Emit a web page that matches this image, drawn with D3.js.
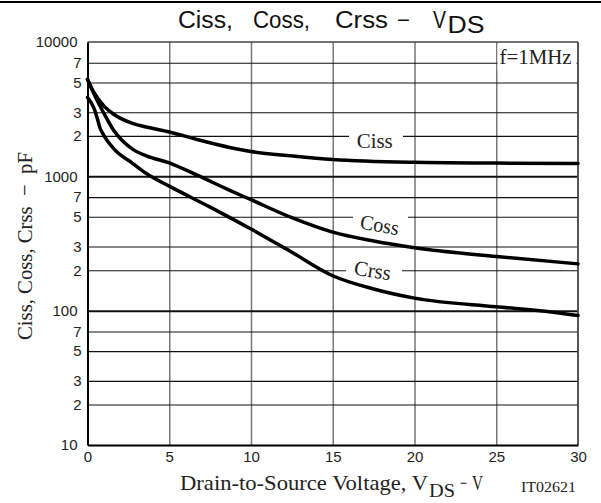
<!DOCTYPE html>
<html>
<head>
<meta charset="utf-8">
<script src="https://cdn.jsdelivr.net/npm/d3@7"></script>
<style>
  html, body { margin: 0; padding: 0; background: #fff; }
  svg { display: block; }
  text { white-space: pre; }
</style>
</head>
<body>
<svg id="chart" width="601" height="503"></svg>
<script>
// ---- data ----
const cissV = [0, 0.4, 1.0, 1.6, 2.8, 3.6, 5, 6.7, 8.7, 10, 12.5, 15, 20, 25, 30];
const cissC = [5270, 4200, 3350, 2900, 2470, 2330, 2140, 1880, 1640, 1530, 1420, 1335, 1272, 1255, 1244];
const cossV = [0, 0.4, 1.0, 1.6, 2.8, 3.6, 5, 6.7, 8.7, 10, 12.5, 15, 17.5, 20, 25, 30];
const cossC = [5270, 4100, 2950, 2200, 1580, 1420, 1260, 1020, 787, 670, 492, 384, 330, 294, 253, 223];
const crssV = [0, 0.4, 0.6, 0.75, 1.0, 1.6, 2.8, 3.6, 5, 7.5, 10, 12.5, 15, 17.5, 20, 25, 28, 30];
const crssC = [3870, 3200, 2700, 2320, 2020, 1610, 1240, 1050, 845, 590, 405, 272, 182, 145, 124, 107, 99, 92];
const xTicks = [0, 5, 10, 15, 20, 25, 30];
const yTicks = [10, 20, 30, 50, 70, 100, 200, 300, 500, 700, 1000, 2000, 3000, 5000, 7000, 10000];
const yTickLabels = ["10", "2", "3", "5", "7", "100", "2", "3", "5", "7", "1000", "2", "3", "5", "7", "10000"];
const yMajor = [100, 1000];

const svg = d3.select("#chart");
const L = 87.5, R = 578, T = 42, B = 445;
const x = d3.scaleLinear().domain([0, 30]).range([L, R]);
const y = d3.scaleLog().domain([10, 10000]).range([B, T]);
const sans = "Liberation Sans, Arial, sans-serif";
const serif = "Liberation Serif, Times New Roman, serif";

// header rule
svg.append("line").attr("x1", 0).attr("x2", 601).attr("y1", 2).attr("y2", 2)
  .attr("stroke", "#000").attr("stroke-width", 2);

// title
const tg = svg.append("g").attr("font-family", sans).attr("fill", "#111");
[["Ciss,", 178, 55, 28], ["Coss,", 253, 57, 28], ["Crss", 335, 53, 28], ["\u2212", 397, 13, 28], ["V", 433, 13, 28], ["DS", 447.5, 37, 33]]
  .forEach(([t, tx, tl, ty]) => tg.append("text").attr("x", tx).attr("y", ty).attr("font-size", 23)
    .attr("textLength", tl).attr("lengthAdjust", "spacingAndGlyphs").text(t));

// vertical grid
svg.append("g").attr("transform", `translate(0,${T})`)
  .call(d3.axisBottom(x).tickValues(xTicks.slice(1, -1)).tickSize(B - T).tickFormat(""))
  .call(g => g.select(".domain").remove())
  .call(g => g.selectAll("line").attr("stroke", "#777").attr("stroke-width", 1.5));

// horizontal grid
svg.append("g").attr("transform", `translate(${L},0)`)
  .call(d3.axisRight(y).tickValues(yTicks.slice(1, -1)).tickSize(R - L).tickFormat(""))
  .call(g => g.select(".domain").remove())
  .call(g => g.selectAll("line").attr("stroke", "#111")
    .attr("stroke-width", d => yMajor.includes(d) ? 2 : 1.1));

// label backgrounds (break grid lines)
const bg = svg.append("g").attr("fill", "#fff");
bg.append("rect").attr("x", 497.5).attr("y", 44).attr("width", 79).attr("height", 26);
bg.append("rect").attr("x", 349).attr("y", 128).attr("width", 54).attr("height", 16);
bg.append("rect").attr("x", 353).attr("y", 209).attr("width", 55).attr("height", 16);
bg.append("rect").attr("x", 346).attr("y", 262).attr("width", 56).attr("height", 16);

// frame
svg.append("line").attr("x1", L).attr("x2", R).attr("y1", T).attr("y2", T).attr("stroke", "#444").attr("stroke-width", 1.5);
svg.append("line").attr("x1", R).attr("x2", R).attr("y1", T).attr("y2", B).attr("stroke", "#444").attr("stroke-width", 1.8);

// axes
svg.append("g").attr("transform", `translate(0,${B})`)
  .call(d3.axisBottom(x).tickValues(xTicks).tickSize(0).tickPadding(6))
  .call(g => g.select(".domain").attr("stroke", "#000").attr("stroke-width", 2))
  .call(g => g.selectAll("text").attr("font-family", sans).attr("font-size", 15).attr("fill", "#222"));

svg.append("g").attr("transform", `translate(${L},0)`)
  .call(d3.axisLeft(y).tickValues(yTicks).tickFormat((d, i) => yTickLabels[i]).tickSize(0).tickPadding(8))
  .call(g => g.select(".domain").attr("stroke", "#000").attr("stroke-width", 2))
  .call(g => g.selectAll("text").attr("font-family", sans).attr("font-size", 15).attr("fill", "#222")
    .attr("x", (d, i) => yTickLabels[i].length > 1 ? -10 : -6));

// curves
const line = d3.line().x(d => x(d[0])).y(d => y(d[1])).curve(d3.curveMonotoneX);
const series = [[cissV, cissC], [cossV, cossC], [crssV, crssC]];
svg.append("g").selectAll("path").data(series).join("path")
  .attr("d", s => line(s[0].map((v, i) => [v, s[1][i]])))
  .attr("fill", "none").attr("stroke", "#000").attr("stroke-width", 3.5)
  .attr("stroke-linejoin", "round").attr("stroke-linecap", "round");

// labels
const lab = (t, tr, fs, tl) => svg.append("text").attr("transform", tr).attr("font-family", serif)
  .attr("font-size", fs).attr("fill", "#222").attr("textLength", tl).attr("lengthAdjust", "spacingAndGlyphs").text(t);
lab("f=1MHz", "translate(499.5,63.5)", 20.5, 72);
lab("Ciss", "translate(356.7,148)", 21, 36);
lab("Coss", "translate(359.3,228.5) rotate(10)", 21, 39);
lab("Crss", "translate(353.3,274.5) rotate(9)", 21, 37);

// x axis title
const xg = svg.append("g").attr("font-family", serif).attr("fill", "#222");
xg.append("text").attr("x", 180).attr("y", 490).attr("font-size", 21)
  .attr("textLength", 248).attr("lengthAdjust", "spacingAndGlyphs").text("Drain-to-Source Voltage, V");
xg.append("text").attr("x", 429).attr("y", 497).attr("font-size", 19)
  .attr("textLength", 26).attr("lengthAdjust", "spacingAndGlyphs").text("DS");
xg.append("text").attr("x", 460).attr("y", 490).attr("font-size", 21)
  .attr("textLength", 7).attr("lengthAdjust", "spacingAndGlyphs").text("\u2212");
xg.append("text").attr("x", 472).attr("y", 490).attr("font-size", 21)
  .attr("textLength", 11).attr("lengthAdjust", "spacingAndGlyphs").text("V");

svg.append("text").attr("x", 521).attr("y", 492).attr("font-family", serif).attr("font-size", 15).attr("fill", "#222")
  .attr("textLength", 55).attr("lengthAdjust", "spacingAndGlyphs").text("IT02621");

// y axis title
svg.append("text").attr("transform", "translate(32,246) rotate(-90)").attr("text-anchor", "middle")
  .attr("font-family", serif).attr("font-size", 22).attr("fill", "#222")
  .attr("textLength", 188).attr("lengthAdjust", "spacingAndGlyphs").text("Ciss, Coss, Crss  \u2212  pF");
</script>
</body>
</html>
